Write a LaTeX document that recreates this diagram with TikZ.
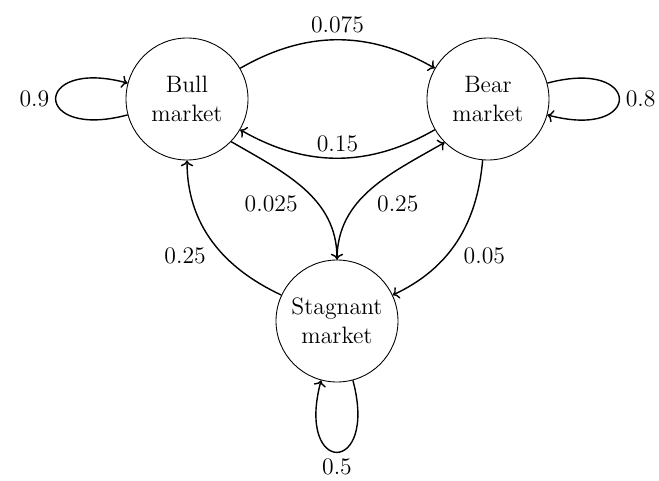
\documentclass[tikz,border=0pt]{standalone}
\usepackage{fontspec}
\usepackage{tikz}
\usetikzlibrary{arrows.meta}
\newcommand{\mktfont}{\fontsize{13.5}{16.5}\selectfont}
\tikzset{
    marketnode/.style={draw, circle, line width=0.5pt, minimum size=2.44cm, align=center, font=\mktfont},
    trans/.style={->, line width=0.8pt},
    prob/.style={font=\mktfont}
}
\begin{document}
\begin{tikzpicture}
\useasboundingbox (0,0) rectangle (13.18,9.6);
\node[marketnode] (bull) at (3.74,7.62) {Bull\\market};
\node[marketnode] (bear) at (9.76,7.62) {Bear\\market};
\node[marketnode] (stag) at (6.74,3.18) {Stagnant\\market};
% self loops
\draw[trans] (bull) to[loop left] node[prob, left] {0.9} (bull);
\draw[trans] (bear) to[loop right] node[prob, right] {0.8} (bear);
\draw[trans] (stag) to[loop below] node[prob, below] {0.5} (stag);
% between markets
\draw[trans] (bull) to[bend left=30] node[prob, above] {0.075} (bear);
\draw[trans] (bear) to[bend left=30] node[prob, above] {0.15} (bull);
\draw[trans] (bull.-44) to[out=-30, in=90] node[prob, below left] {0.025} (stag.90);
\draw[trans] (stag) to[out=155, in=-90] node[prob, below left] {0.25} (bull);
\draw[trans] (stag.90) to[out=90, in=-150] node[prob, below right] {0.25} (bear.-135);
\draw[trans] (bear) to[out=-95, in=25] node[prob, below right] {0.05} (stag);
\end{tikzpicture}
\end{document}
